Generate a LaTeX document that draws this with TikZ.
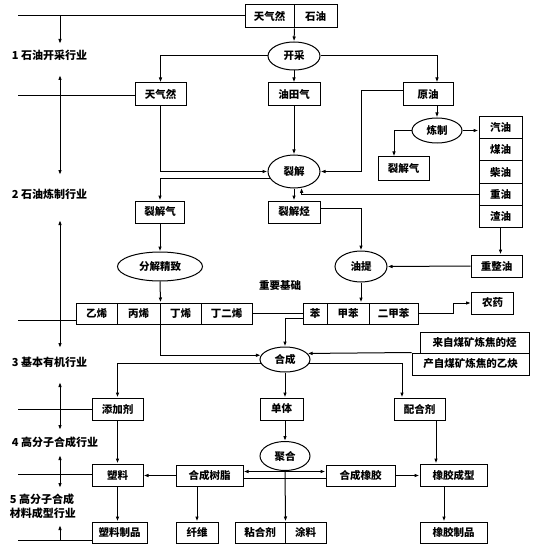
\documentclass[tikz,border=0pt]{standalone}
\usepackage{fontspec}
\setmainfont{Noto Sans CJK SC}
\usetikzlibrary{calc,arrows.meta,shapes.geometric}

\begin{document}
\begin{tikzpicture}[x=1pt,y=-1pt,line width=1pt,
    >={Latex[length=5pt,width=3.6pt]},
    box/.style={draw, rectangle, inner sep=0pt, minimum height=22, font=\fontsize{10.5}{12}\selectfont\bfseries},
    oval/.style={draw, ellipse, inner sep=0pt, font=\fontsize{10.5}{12}\selectfont\bfseries},
    lvl/.style={anchor=west, align=left, font=\fontsize{11}{14}\selectfont\bfseries}]
    \path[use as bounding box, fill=white] (0,0) rectangle (536,548);

    \node[box, minimum width=49, minimum height=23] (tq) at (269.5,16.5) {天气然};
    \node[box, minimum width=43, minimum height=23] (sy) at (315.5,16.5) {石油};
    \node[oval, minimum width=52, minimum height=28] (kc) at (294,56) {开采};
    \node[box, minimum width=51, minimum height=23] (trq) at (160.5,94.5) {天气然};
    \node[box, minimum width=52, minimum height=23] (ytq) at (294,94.5) {油田气};
    \node[box, minimum width=50, minimum height=23] (yy) at (428,94.5) {原油};
    \node[oval, minimum width=50, minimum height=25] (lz) at (437,130.5) {炼制};
    \node[box, minimum width=51, minimum height=23] (ljq) at (403.5,168.5) {裂解气};
    \foreach \n/\t [count=\i] in {qy/汽油,my/煤油,cy/柴油,zy/重油,zz/渣油}
      \node[box, minimum width=43] (\n) at (500.5,106+22*\i) {\t};
    \node[oval, minimum width=52, minimum height=33] (lj) at (294,171.5) {裂解};
    \node[box, minimum width=49] (ljq2) at (160,212) {裂解气};
    \node[box, minimum width=52] (ljt) at (294,212) {裂解烃};
    \node[oval, minimum width=85, minimum height=29] (fj) at (160,266.5) {分解精致};
    \node[oval, minimum width=52, minimum height=31] (yt) at (361,266.5) {油提};
    \node[box, minimum width=51] (czy) at (496.5,266) {重整油};
    \foreach \n/\t/\x/\w in {yx/乙烯/96.5/41, bx/丙烯/138.5/43, dx/丁烯/180.5/41, dex/丁二烯/226.5/51}
      \node[box, minimum width=\w, minimum height=21] (\n) at (\x,313.5) {\t};
    \node[font=\fontsize{10.5}{12}\selectfont\bfseries] (zj) at (280,286) {重要基础};
    \foreach \n/\t/\x/\w in {ben/苯/315/24, jb/甲苯/348/42, ejb/二甲苯/393.5/49}
      \node[box, minimum width=\w, minimum height=21] (\n) at (\x,313.5) {\t};
    \node[box, minimum width=42] (ny) at (492.5,303) {农药};
    \node[box, minimum width=109, minimum height=21] (mj1) at (474.5,342.5) {来自煤矿炼焦的烃};
    \node[box, minimum width=117] (mj2) at (470.5,364) {产自煤矿炼焦的乙炔};
    \node[oval, minimum width=50, minimum height=25] (hc) at (285,359.5) {合成};
    \node[box, minimum width=51] (tjj) at (117.5,409) {添加剂};
    \node[box, minimum width=43] (dt) at (281.5,409) {单体};
    \node[box, minimum width=51] (phj) at (419.5,409) {配合剂};
    \node[box, minimum width=51] (sl) at (117.5,475) {塑料};
    \node[oval, minimum width=50, minimum height=29] (jh) at (285,456) {聚合};
    \node[box, minimum width=67, minimum height=21] (hcsz) at (209.5,475.5) {合成树脂};
    \node[box, minimum width=69, minimum height=21] (hcxj) at (360.5,475.5) {合成橡胶};
    \node[box, minimum width=67] (xjcx) at (453.5,475) {橡胶成型};
    \node[box, minimum width=55, minimum height=21] (slzp) at (119.5,532.5) {塑料制品};
    \node[box, minimum width=42, minimum height=21] (xw) at (197,532.5) {纤维};
    \node[box, minimum width=50, minimum height=21] (nhj) at (260,532.5) {粘合剂};
    \node[box, minimum width=41, minimum height=21] (tl) at (305.5,532.5) {涂料};
    \node[box, minimum width=67, minimum height=21] (xjzp) at (453.5,532.5) {橡胶制品};

    \node[lvl] (h1) at (8,55) {1 石油开采行业};
    \node[lvl] (h2) at (8,194) {2 石油炼制行业};
    \node[lvl] (h3) at (8,362) {3 基本有机行业};
    \node[lvl] (h4) at (8,442) {4 高分子合成行业};
    \node[lvl] (h5) at (6,506.5) {5 高分子合成\\材料成型行业};

    \foreach \y/\n in {16/tq, 96/trq, 320/yx, 409/tjj, 474/sl, 540/slzp}{
      \coordinate (e) at (18,\y);
      \draw (e) -- (e -| \n.west);
    }
    \coordinate (v0) at (60,16);
    \coordinate (v1) at (60,44);
    \draw[->] (v0) -- (v1);
    \foreach \a/\b in {75/175, 220/348, 382/430, 455/488}{
      \coordinate (va) at (60,\a);
      \coordinate (vb) at (60,\b);
      \draw[<->] (va) -- (vb);
    }
    \coordinate (v2) at (60,540);
    \coordinate (v3) at (60,525);
    \draw[->] (v2) -- (v3);

    \draw[->] (tq.south east) -- (kc.north);
    \draw[->] (kc.west) -| (trq.north);
    \draw[->] (kc.south) -- (ytq.north);
    \draw[->] (kc.east) -| (lz.north |- yy.north);
    \draw[->] (lz.north |- yy.south) -- (lz.north);
    \draw[->] ([yshift=4pt]yy.west) -- ++(-41,0) |- (lj.east);
    \draw[->] (trq.south) |- (lj.west);
    \draw[->] (ytq.south) -- (lj.north);
    \draw[->] (lz.west) -| ([xshift=-9.5pt]ljq.north);
    \draw[->] (lz.east) -- (lz.east -| qy.west);
    \draw[->] (zy.west) -| (lj.-65);
    \draw[->] (lj.south) -- (ljt.north);
    \draw[->] (lj.195) -| (ljq2.north);
    \draw[->] ([yshift=4pt]ljt.east) -| (yt.north);
    \draw[->] (ljq2.south) -- (fj.north);
    \draw[->] (fj.south) -- (bx.north east);
    \draw[->] (bx.south east) |- (hc.170);
    \draw (dex.east) -- (ben.west);
    \draw[->] ([yshift=-4.5pt]ben.west) -| (hc.north);
    \draw[->] (yt.south) -- (yt.south |- jb.north);
    \draw[->] (ejb.east) -- ++(35,0) |- (ny.west);
    \draw[->] (czy.west) -- (yt.east);
    \draw[->] (zz.south) -- (zz.south |- czy.north);
    \draw[->] (mj2.north west) -- (hc.15);
    \draw[->] (hc.190) -| (tjj.north);
    \draw[->] (hc.south) -- (hc.south |- dt.north);
    \draw[->] (hc.-10) -| ([xshift=-17.5pt]phj.north);
    \draw[->] (tjj.south) -- (sl.north);
    \draw[->] (hc.south |- dt.south) -- (jh.north);
    \draw[<->] ([yshift=4pt]hcsz.east) -- ([yshift=4pt]hcxj.west);
    \draw ([yshift=-2.5pt]hcsz.east) -- ([yshift=-2.5pt]hcxj.west);
    \draw[->] (jh.south) -- (nhj.north east);
    \draw[->] (hcsz.west) -- (hcsz.west -| sl.east);
    \draw[->] (xw.north |- hcsz.south) -- (xw.north);
    \draw[->] (hcxj.east) -- (hcxj.east -| xjcx.west);
    \coordinate (m) at (436,0);
    \draw[->] (phj.south -| m) -- (xjcx.north -| m);
    \draw[->] ([xshift=-9.5pt]xjcx.south) -- ([xshift=-9.5pt]xjzp.north);
    \draw[->] (sl.south) -- (sl.south |- slzp.north);
  \end{tikzpicture}
\end{document}
